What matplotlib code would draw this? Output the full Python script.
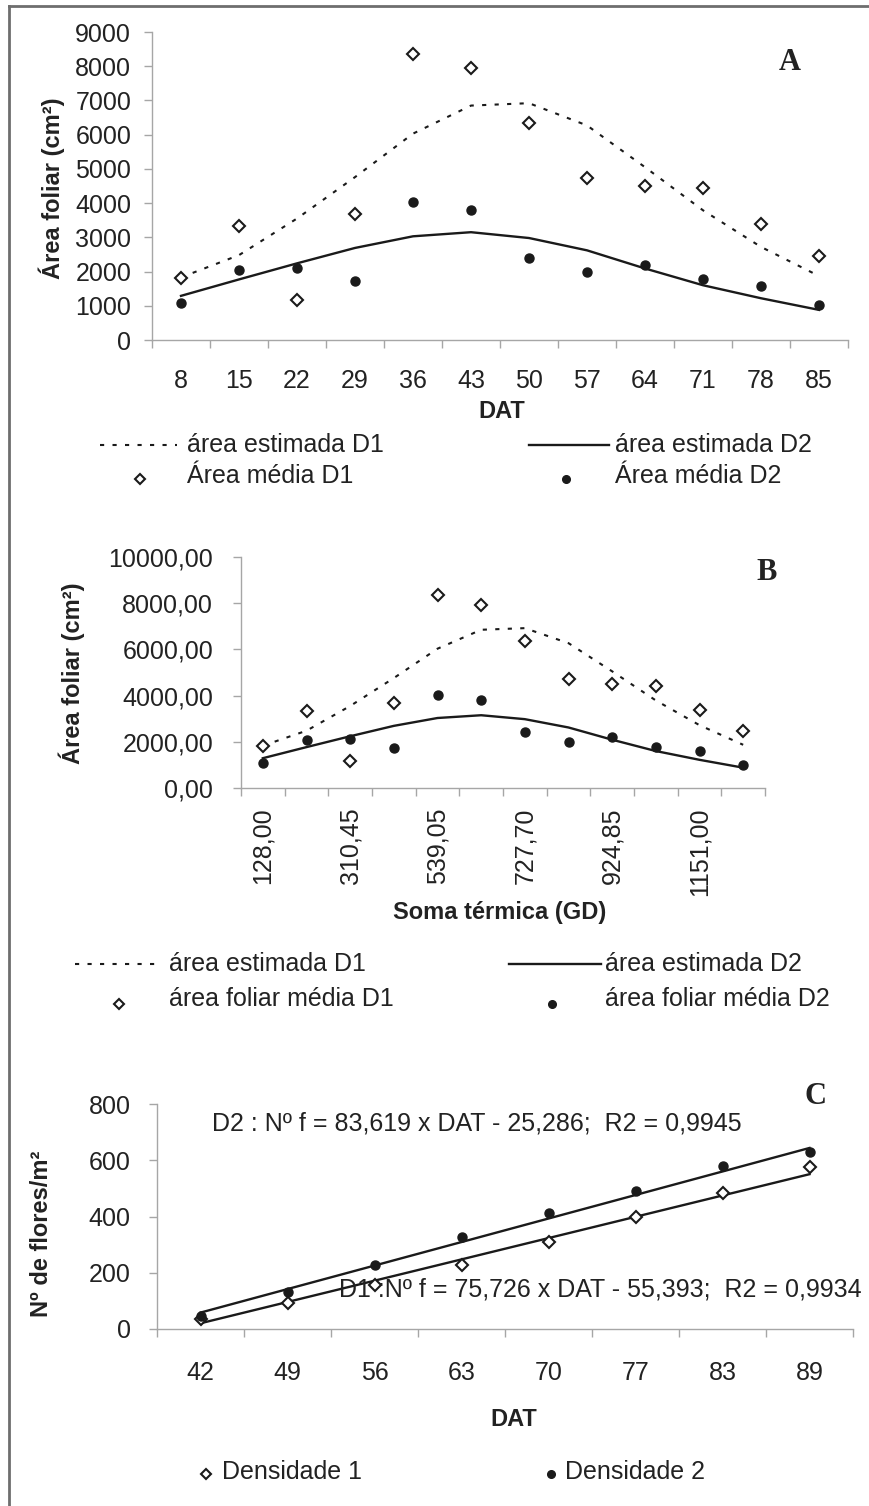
import numpy as np
import matplotlib
matplotlib.use("Agg")
import matplotlib.pyplot as plt
from matplotlib.lines import Line2D

plt.rcParams['font.family'] = ['Liberation Sans', 'DejaVu Sans']
plt.rcParams['text.color'] = '#222222'

# panel A / B data (same measurements, two x scales)
dat_a = [8, 15, 22, 29, 36, 43, 50, 57, 64, 71, 78, 85]
gd_labels = ['128,00', '310,45', '539,05', '727,70', '924,85', '1151,00']  # every other category
area_d1 = [1800, 3330, 1160, 3670, 8360, 7940, 6350, 4720, 4490, 4430, 3380, 2450]
area_d2 = [1070, 2060, 2110, 1710, 4040, 3810, 2410, 2000, 2190, 1770, 1590, 1010]
est_d1 = [1830, 2480, 3550, 4760, 6030, 6850, 6920, 6270, 5050, 3790, 2720, 1870]
est_d2 = [1290, 1770, 2240, 2690, 3030, 3150, 2980, 2620, 2090, 1600, 1220, 880]

# panel C data
dat_c = [42, 49, 56, 63, 70, 77, 83, 89]
flores_d1 = [36, 92, 156, 228, 310, 399, 482, 575]
flores_d2 = [48, 130, 226, 327, 411, 492, 580, 630]
fit_d1 = (75.726, -55.393, 0.9934)
fit_d2 = (83.619, -25.286, 0.9945)

W, H = 869, 1506
INK = '#1a1a1a'
AXC = '#a6a6a6'
fig = plt.figure(figsize=(W / 100, H / 100), dpi=100)


def box(x0, x1, yt, yb):
    return [x0 / W, 1 - yb / H, (x1 - x0) / W, (yb - yt) / H]


def fx(x):
    return x / W


def fy(y):
    return 1 - y / H


def style(ax, n, ypad, xpad, xrot=0):
    for s in ['top', 'right']:
        ax.spines[s].set_visible(False)
    for s in ['left', 'bottom']:
        ax.spines[s].set_color(AXC)
        ax.spines[s].set_linewidth(1)
    ax.set_xlim(-0.5, n - 0.5)
    ax.set_xticks(np.arange(n + 1) - 0.5, minor=True)
    ax.tick_params(axis='y', direction='out', length=6, width=1, color=AXC,
                   labelsize=18, labelcolor='#222222', pad=ypad)
    ax.tick_params(axis='x', which='major', length=0, labelsize=18,
                   labelcolor='#222222', pad=xpad, labelrotation=xrot)
    ax.tick_params(axis='x', which='minor', direction='out', length=6,
                   width=1, color=AXC)


def draw_area(ax):
    x = np.arange(len(dat_a))
    ax.plot(x, est_d1, ls=(0, (2, 4)), color=INK, lw=1.5)
    ax.plot(x, est_d2, ls='-', color=INK, lw=1.7)
    ax.plot(x, area_d1, ls='none', marker='D', ms=6, mfc='white', mec=INK, mew=1.5)
    ax.plot(x, area_d2, ls='none', marker='o', ms=6.5, color=INK)


def legend_row(y, items):
    # items: (kind, x0, x1, xtext, label, dy)
    for kind, x0, x1, xt, label, dy in items:
        if kind == 'dot':
            fig.add_artist(Line2D([fx(x0), fx(x1)], [fy(y)] * 2, transform=fig.transFigure,
                                  ls=(0, (2, 4)), color=INK, lw=1.5))
        elif kind == 'solid':
            fig.add_artist(Line2D([fx(x0), fx(x1)], [fy(y)] * 2, transform=fig.transFigure,
                                  ls='-', color=INK, lw=1.7))
        elif kind == 'diamond':
            fig.add_artist(Line2D([fx(x0)], [fy(y + dy)], transform=fig.transFigure, ls='none',
                                  marker='D', ms=5, mfc='white', mec=INK, mew=1.5))
        else:
            fig.add_artist(Line2D([fx(x0)], [fy(y + dy)], transform=fig.transFigure, ls='none',
                                  marker='o', ms=5.5, color=INK))
        fig.text(fx(xt), fy(y), label, ha='left', va='center', fontsize=18)


# ---- A ----
axA = fig.add_axes(box(152, 848, 32, 340))
draw_area(axA)
axA.set_ylim(0, 9000)
axA.set_yticks(np.arange(0, 9001, 1000))
axA.set_xticks(np.arange(len(dat_a)))
axA.set_xticklabels([str(d) for d in dat_a])
style(axA, len(dat_a), ypad=9, xpad=21)
fig.text(fx(502), fy(412), 'DAT', ha='center', va='center', fontsize=17, weight='bold')
fig.text(fx(52), fy(188), 'Área foliar (cm²)', ha='center', va='center', rotation=90,
         fontsize=17, weight='bold')
fig.text(fx(790), fy(63), 'A', ha='center', va='center', fontsize=22, weight='bold',
         family='Liberation Serif')
legend_row(445, [('dot', 100, 177, 187, 'área estimada D1', 0),
                 ('solid', 529, 609, 615, 'área estimada D2', 0)])
legend_row(476, [('diamond', 140, 140, 187, 'Área média D1', 3),
                 ('circle', 566, 566, 615, 'Área média D2', 3)])

# ---- B ----
axB = fig.add_axes(box(241, 765, 557, 788))
draw_area(axB)
axB.set_ylim(0, 10000)
axB.set_yticks(np.arange(0, 10001, 2000))
axB.set_yticklabels([f'{v:.2f}'.replace('.', ',') for v in np.arange(0, 10001, 2000)])
axB.set_xticks(np.arange(0, len(dat_a), 2))
axB.set_xticklabels(gd_labels)
style(axB, len(dat_a), ypad=14, xpad=14, xrot=90)
for lab in axB.get_xticklabels():
    lab.set_va('top')
    lab.set_ha('center')
fig.text(fx(500), fy(912), 'Soma térmica (GD)', ha='center', va='center', fontsize=17,
         weight='bold')
fig.text(fx(72), fy(673), 'Área foliar (cm²)', ha='center', va='center', rotation=90,
         fontsize=17, weight='bold')
fig.text(fx(767), fy(572), 'B', ha='center', va='center', fontsize=22, weight='bold',
         family='Liberation Serif')
legend_row(964, [('dot', 75, 157, 169, 'área estimada D1', 0),
                 ('solid', 509, 601, 605, 'área estimada D2', 0)])
legend_row(999, [('diamond', 119, 119, 169, 'área foliar média D1', 5),
                 ('circle', 552, 552, 605, 'área foliar média D2', 5)])

# ---- C ----
axC = fig.add_axes(box(157, 853, 1104, 1329))
xc = np.arange(len(dat_c))
for fit in (fit_d1, fit_d2):
    axC.plot(xc, np.polyval(fit[:2], xc + 1), color=INK, lw=1.7)
axC.plot(xc, flores_d1, ls='none', marker='D', ms=6, mfc='white', mec=INK, mew=1.5)
axC.plot(xc, flores_d2, ls='none', marker='o', ms=6.5, color=INK)
axC.set_ylim(0, 800)
axC.set_yticks(np.arange(0, 801, 200))
axC.set_xticks(xc)
axC.set_xticklabels([str(d) for d in dat_c])
style(axC, len(dat_c), ypad=13, xpad=23)


def eq_text(name, fit, sep):
    a, b, r2 = fit
    sgn = '-' if b < 0 else '+'
    num = lambda v, d: f'{v:.{d}f}'.replace('.', ',')
    return f'{name}{sep}Nº f = {num(a, 3)} x DAT {sgn} {num(abs(b), 3)};  R2 = {num(r2, 4)}'


axC.text((212 - 157) / 696, (1329 - 1123) / 225, eq_text('D2', fit_d2, ' : '),
         transform=axC.transAxes, ha='left', va='center', fontsize=18)
axC.text((339 - 157) / 696, (1329 - 1290) / 225, eq_text('D1', fit_d1, ' :'),
         transform=axC.transAxes, ha='left', va='center', fontsize=18)
fig.text(fx(514), fy(1419), 'DAT', ha='center', va='center', fontsize=17, weight='bold')
fig.text(fx(42), fy(1234), 'Nº de flores/m²', ha='center', va='center', rotation=90,
         fontsize=17, weight='bold')
fig.text(fx(815), fy(1097), 'C', ha='center', va='center', fontsize=22, weight='bold',
         family='Liberation Serif')
legend_row(1472, [('diamond', 206, 206, 222, 'Densidade 1', 2),
                  ('circle', 551, 551, 565, 'Densidade 2', 2)])

# outer frame (top and left edges)
fig.add_artist(Line2D([fx(9), 1], [fy(6)] * 2, transform=fig.transFigure, color='#6e6e6e', lw=2))
fig.add_artist(Line2D([fx(9)] * 2, [fy(6), 0], transform=fig.transFigure, color='#6e6e6e', lw=2))

fig.savefig('out.png', dpi=100)
